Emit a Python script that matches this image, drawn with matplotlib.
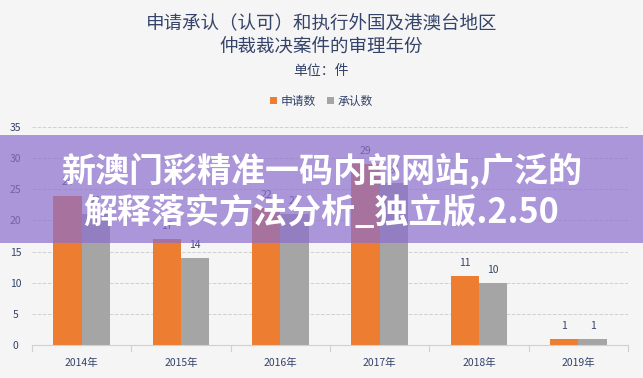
import matplotlib.pyplot as plt
from matplotlib.patches import Rectangle
import numpy as np

plt.rcParams['font.family'] = ['Noto Sans CJK SC', 'DejaVu Sans']

years = ['2014年', '2015年', '2016年', '2017年', '2018年', '2019年']
applied = [24, 17, 22, 29, 11, 1]
recognized = [21, 14, 21, 26, 10, 1]
yticks = [0, 5, 10, 15, 20, 25, 30, 35]

text_color = '#35436a'
bg = '#f5f5f5'

fig = plt.figure(figsize=(6.43, 3.78), dpi=100, facecolor=bg)
ax = fig.add_axes([32 / 643, 1 - 345 / 378, 596 / 643, 218 / 378])
ax.set_facecolor(bg)

x = np.arange(len(years))
w = 0.285
b1 = ax.bar(x - w / 2, applied, w, color='#ed7d31', label='申请数', zorder=2)
b2 = ax.bar(x + w / 2, recognized, w, color='#a5a5a5', label='承认数', zorder=2)

# value labels
for bars in (b1, b2):
    for r in bars:
        ax.text(r.get_x() + r.get_width() / 2, r.get_height() + 1.3, str(int(r.get_height())),
                ha='center', va='bottom', fontsize=7.5, color=text_color)

ax.set_xlim(-0.5, len(years) - 0.5)
ax.set_ylim(0, 35)
ax.set_yticks(yticks)
ax.set_xticks(x)
ax.set_xticklabels(years)
ax.tick_params(axis='both', length=0, labelsize=7.5, colors=text_color)
ax.tick_params(axis='x', pad=9)
ax.tick_params(axis='y', pad=12)
for t in ax.get_yticklabels():
    t.set_horizontalalignment('center')
ax.grid(axis='y', color='#d0d0d0', linestyle='--', linewidth=0.7, zorder=0)
for s in ['top', 'right', 'left']:
    ax.spines[s].set_visible(False)
ax.spines['bottom'].set_color('#d0d0d0')
for xb in np.arange(-0.5, len(years), 1.0):
    ax.plot([xb, xb], [0, -0.9], color='#d0d0d0', linewidth=0.8, clip_on=False)

fig.text(0.5, 1 - 24 / 378, '申请承认（认可）和执行外国及港澳台地区', ha='center', va='center',
         fontsize=13.3, color=text_color)
fig.text(0.5, 1 - 48 / 378, '仲裁裁决案件的审理年份', ha='center', va='center',
         fontsize=13.3, color=text_color)
fig.text(0.5, 1 - 71 / 378, '单位：件', ha='center', va='center', fontsize=10, color=text_color)

leg = fig.legend(loc='center', bbox_to_anchor=(0.5, 1 - 101 / 378), ncol=2, frameon=False,
                 fontsize=8.5, handlelength=0.6, handleheight=0.6, handletextpad=0.3,
                 columnspacing=1.0)
for t in leg.get_texts():
    t.set_color(text_color)

# purple banner on top
fig.add_artist(Rectangle((0, 1 - 243 / 378), 1, 108 / 378, transform=fig.transFigure,
                         facecolor='#8b6ecd', alpha=0.7, edgecolor='none', zorder=5))
fig.text(0.5, 1 - 171 / 378, '新澳门彩精准一码内部网站,广泛的', ha='center', va='center',
         fontsize=24.5, fontweight='heavy', color='white', zorder=6)
fig.text(0.5, 1 - 213 / 378, '解释落实方法分析_独立版.2.50', ha='center', va='center',
         fontsize=24.5, fontweight='heavy', color='white', zorder=6)

fig.savefig('out.png', dpi=100, facecolor=bg)
